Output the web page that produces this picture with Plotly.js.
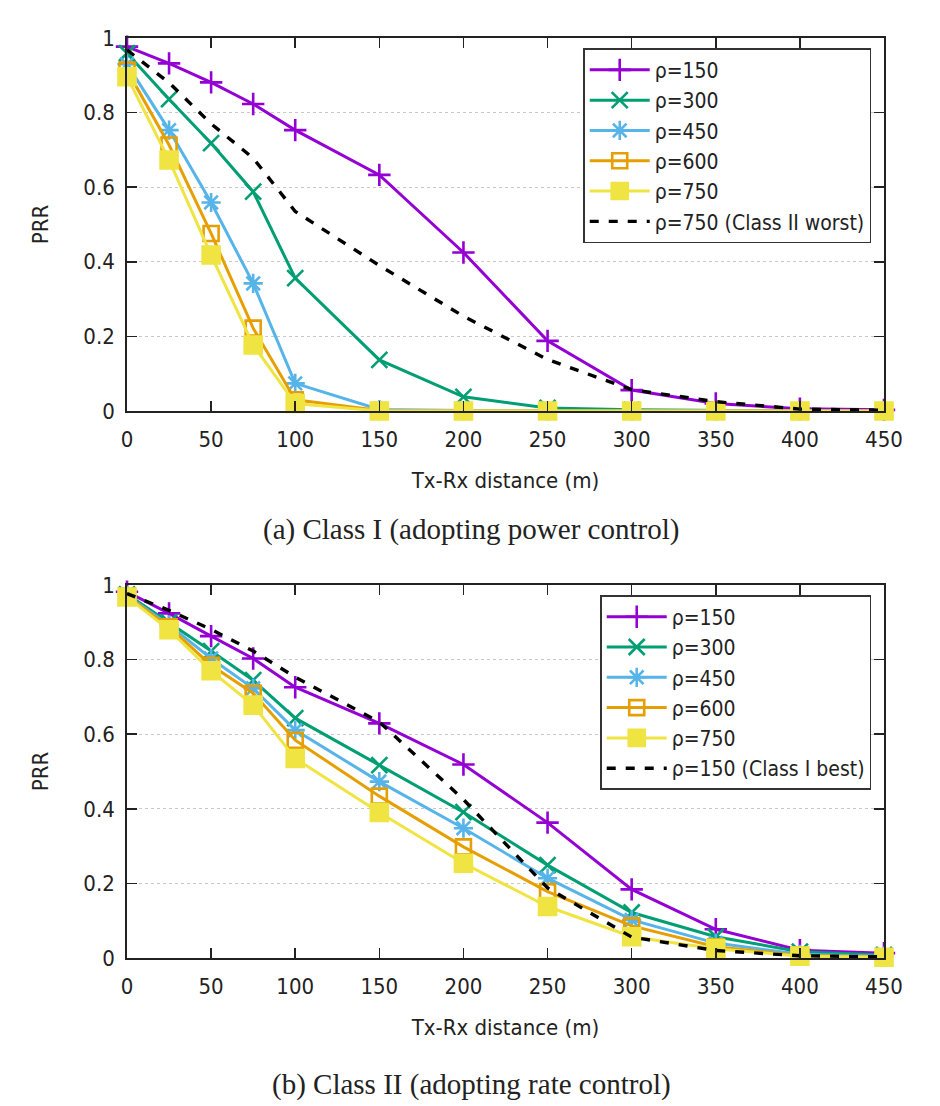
<!DOCTYPE html>
<html>
<head>
<meta charset="utf-8">
<script src="https://cdn.plot.ly/plotly-3.0.1.min.js"></script>
<style>html,body{margin:0;padding:0;background:#fff;}#chart{width:940px;height:1106px;}</style>
</head>
<body>
<div id="chart"></div>
<script>
// Tx-Rx distance (m)
const distance = [0, 25, 50, 75, 100, 150, 200, 250, 300, 350, 400, 450];

// Class I (adopting power control) PRR
const classI_rho150 = [0.977, 0.932, 0.881, 0.823, 0.753, 0.633, 0.425, 0.188, 0.056, 0.020, 0.006, 0.003];
const classI_rho300 = [0.959, 0.836, 0.718, 0.588, 0.356, 0.137, 0.038, 0.008, 0.003, 0.001, 0.000, 0.000];
const classI_rho450 = [0.930, 0.753, 0.559, 0.342, 0.074, 0.004, 0.001, 0.000, 0.000, 0.000, 0.000, 0.000];
const classI_rho600 = [0.914, 0.713, 0.476, 0.222, 0.030, 0.001, 0.000, 0.000, 0.000, 0.000, 0.000, 0.000];
const classI_rho750 = [0.896, 0.673, 0.418, 0.177, 0.020, 0.000, 0.000, 0.000, 0.000, 0.000, 0.000, 0.000];

// Class II (adopting rate control) PRR
const classII_rho150 = [0.982, 0.924, 0.863, 0.803, 0.726, 0.629, 0.519, 0.363, 0.184, 0.077, 0.021, 0.013];
const classII_rho300 = [0.975, 0.900, 0.823, 0.745, 0.643, 0.517, 0.391, 0.249, 0.122, 0.057, 0.017, 0.008];
const classII_rho450 = [0.972, 0.893, 0.803, 0.723, 0.611, 0.473, 0.348, 0.214, 0.102, 0.040, 0.010, 0.005];
const classII_rho600 = [0.970, 0.888, 0.785, 0.710, 0.584, 0.434, 0.298, 0.178, 0.086, 0.030, 0.007, 0.003];
const classII_rho750 = [0.968, 0.880, 0.770, 0.678, 0.535, 0.390, 0.254, 0.138, 0.057, 0.025, 0.005, 0.002];

const seriesLabels = ['ρ=150', 'ρ=300', 'ρ=450', 'ρ=600', 'ρ=750'];
const refLabelTop = 'ρ=750 (Class II worst)';
const refLabelBottom = 'ρ=150 (Class I best)';
const xTicks = [0, 50, 100, 150, 200, 250, 300, 350, 400, 450];
const yTicks = [0, 0.2, 0.4, 0.6, 0.8, 1];
const captionTop = '(a) Class I (adopting power control)';
const captionBottom = '(b) Class II (adopting rate control)';
const xTitle = 'Tx-Rx distance (m)';
const yTitle = 'PRR';

const colors = ['#9400d3', '#009e73', '#56b4e9', '#e69f00', '#f0e442'];
const symbols = ['cross-thin-open', 'x-thin-open', 'asterisk-open', 'square-open', 'square'];
const sizes = [16, 16, 16, 15, 17];

function mk(y, i, xa, ya, lg) {
  return {
    x: distance, y: y, type: 'scatter', mode: 'lines+markers',
    name: seriesLabels[i], xaxis: xa, yaxis: ya, legend: lg,
    line: {color: colors[i], width: 3},
    marker: {symbol: symbols[i], size: sizes[i], color: colors[i], line: {color: colors[i], width: 2.6}},
    cliponaxis: false
  };
}
function ref(y, name, xa, ya, lg) {
  return {
    x: distance, y: y, type: 'scatter', mode: 'lines', name: name,
    xaxis: xa, yaxis: ya, legend: lg,
    line: {color: '#000', width: 3.4, dash: '9px,10px'}, cliponaxis: false
  };
}

const topSets = [classI_rho150, classI_rho300, classI_rho450, classI_rho600, classI_rho750];
const botSets = [classII_rho150, classII_rho300, classII_rho450, classII_rho600, classII_rho750];

const data = [];
topSets.forEach((s, i) => data.push(mk(s, i, 'x', 'y', 'legend')));
data.push(ref(classII_rho750, refLabelTop, 'x', 'y', 'legend'));
botSets.forEach((s, i) => data.push(mk(s, i, 'x2', 'y2', 'legend2')));
data.push(ref(classI_rho150, refLabelBottom, 'x2', 'y2', 'legend2'));

const fontFam = 'DejaVu Sans Condensed, DejaVu Sans, sans-serif';
function xax(anchor) {
  return {
    anchor: anchor, domain: [0, 1], range: [0, 450], tickvals: xTicks,
    ticks: 'inside', ticklen: 10, tickwidth: 1.6, tickcolor: '#222',
    showline: true, linecolor: '#222', linewidth: 1.8, mirror: 'ticks',
    showgrid: false, zeroline: false,
    tickfont: {family: fontFam, size: 22, color: '#222'}, ticklabelstandoff: 8,
    title: {text: xTitle, font: {family: fontFam, size: 22, color: '#222'}, standoff: 21}
  };
}
function yax(anchor, dom) {
  return {
    anchor: anchor, domain: dom, range: [0, 1], tickvals: yTicks,
    ticks: 'inside', ticklen: 10, tickwidth: 1.6, tickcolor: '#222',
    showline: true, linecolor: '#222', linewidth: 1.8, mirror: 'ticks',
    showgrid: true, gridcolor: '#c8c8c8', griddash: 'dot', gridwidth: 1.3, zeroline: false,
    tickfont: {family: fontFam, size: 22, color: '#222'}, ticklabelstandoff: 6,
    title: {text: yTitle, font: {family: fontFam, size: 22, color: '#222'}, standoff: 29}
  };
}
function leg(y) {
  return {
    x: 0.983, y: y, xanchor: 'right', yanchor: 'top',
    bgcolor: '#fff', bordercolor: '#333', borderwidth: 1.6,
    font: {family: fontFam, size: 21, color: '#222'}, itemwidth: 60,
    tracegroupgap: 0
  };
}

const layout = {
  width: 940, height: 1106,
  margin: {l: 127, r: 56, t: 38, b: 148},
  paper_bgcolor: '#fff', plot_bgcolor: '#fff',
  showlegend: true,
  xaxis: xax('y'), yaxis: yax('x', [0.5946, 1]),
  xaxis2: xax('y2'), yaxis2: yax('x2', [0, 0.4054]),
  legend: leg(0.989), legend2: leg(0.3946),
  annotations: [
    {text: captionTop, xref: 'paper', yref: 'paper', x: 0.455, y: 0.466, xanchor: 'center', yanchor: 'middle',
     showarrow: false, font: {family: 'Liberation Serif, Times New Roman, serif', size: 29, color: '#222'}},
    {text: captionBottom, xref: 'paper', yref: 'paper', x: 0.455, y: -0.138, xanchor: 'center', yanchor: 'middle',
     showarrow: false, font: {family: 'Liberation Serif, Times New Roman, serif', size: 29, color: '#222'}}
  ]
};

Plotly.newPlot('chart', data, layout, {staticPlot: true, displayModeBar: false});
</script>
</body>
</html>
